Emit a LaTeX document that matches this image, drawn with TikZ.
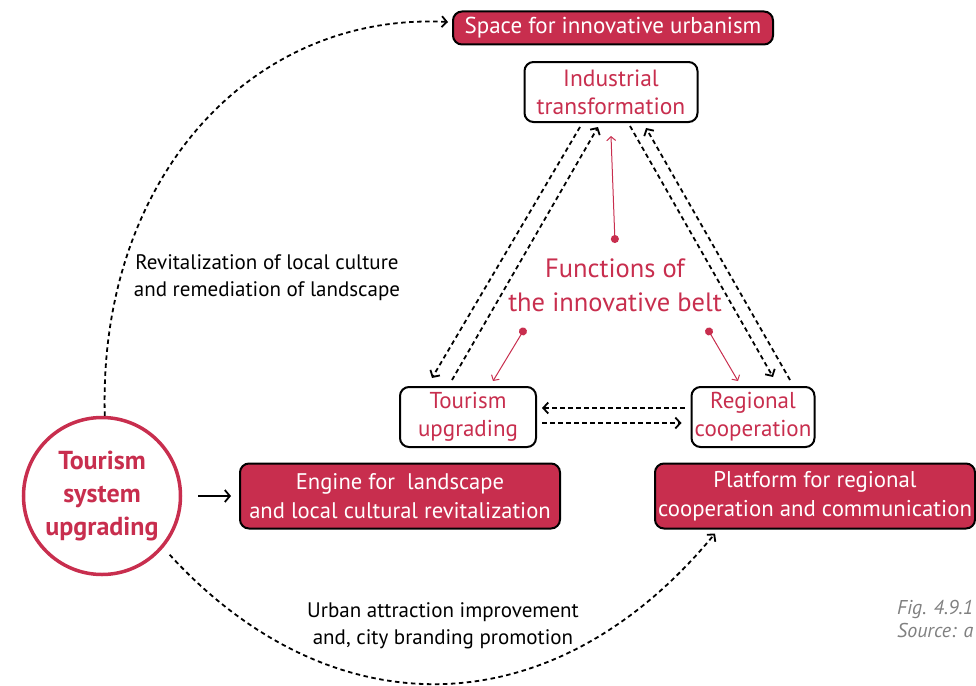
\documentclass[tikz,border=0pt]{standalone}
\usepackage{fontspec}
\setmainfont{PT Sans}
\usetikzlibrary{arrows.meta}
\definecolor{belt}{RGB}{200,46,78}
\definecolor{capgray}{RGB}{128,128,128}
\tikzset{
  redbox/.style={draw=black, line width=2pt, fill=belt, text=white, rounded corners=9pt, align=center, inner sep=1pt},
  whitebox/.style={draw=black, line width=2pt, fill=white, text=belt, rounded corners=9pt, align=center, inner sep=1pt},
  dasharrow/.style={line width=1.8pt, dash pattern=on 4.5pt off 3.5pt, -{Straight Barb[length=5pt,width=11pt,line width=1.8pt]}},
  redarrow/.style={belt, line width=1pt, {Circle[length=8pt]}-{Straight Barb[length=4pt,width=9pt,line width=1pt]}},
  edgelabel/.style={align=center, font=\fontsize{21}{27}\selectfont}
}
\begin{document}
\begin{tikzpicture}[x=1pt, y=-1pt]
\useasboundingbox (0,0) rectangle (976,685);
% outcomes
\node[redbox, minimum width=320pt, minimum height=33pt, font=\fontsize{23}{27}\selectfont] (space) at (613,28) {Space for innovative urbanism};
\node[redbox, minimum width=320pt, minimum height=65pt, font=\fontsize{22.6}{29}\selectfont] (engine) at (400,496) {Engine for ~landscape\\and local cultural revitalization};
\node[redbox, minimum width=320pt, minimum height=65pt, font=\fontsize{22.8}{29}\selectfont] (platform) at (815,496) {Platform for regional\\cooperation and communication};
% functions triangle
\node[whitebox, minimum width=173pt, minimum height=60pt, font=\fontsize{23.5}{28}\selectfont] (ind) at (611,92) {Industrial\\transformation};
\node[whitebox, minimum width=136pt, minimum height=60pt, font=\fontsize{23}{28}\selectfont] (tour) at (468,417) {Tourism\\upgrading};
\node[whitebox, minimum width=123pt, minimum height=60pt, font=\fontsize{23}{28}\selectfont] (reg) at (753,417) {Regional\\cooperation};
\node[text=belt, align=center, font=\fontsize{26.5}{34}\selectfont] (fn) at (615,285) {Functions of\\the innovative belt};
\coordinate (dotind) at (615,243);
\coordinate (dottour) at (525,328);
\coordinate (dotreg) at (707,328);
\draw[redarrow] (dotind) -- ([yshift=-13pt]ind.south);
\draw[redarrow] (dottour) -- (493,381);
\draw[redarrow] (dotreg) -- (738,381);
% exchanges between the functions
\draw[dasharrow] ([xshift=-31pt,yshift=-4pt]ind.south) -- ([xshift=-36pt,yshift=8pt]tour.north);
\draw[dasharrow] ([xshift=-16pt,yshift=6pt]tour.north) -- ([xshift=-13pt,yshift=-4pt]ind.south);
\draw[dasharrow] ([xshift=19pt,yshift=-3pt]ind.south) -- ([xshift=20pt,yshift=9pt]reg.north);
\draw[dasharrow] ([xshift=37pt,yshift=6pt]reg.north) -- ([xshift=35pt,yshift=-5pt]ind.south);
\draw[dasharrow] ([xshift=-6pt,yshift=9pt]reg.west) -- ([xshift=5pt,yshift=9pt]tour.east);
\draw[dasharrow] ([xshift=5pt,yshift=-6pt]tour.east) -- ([xshift=-9pt,yshift=-6pt]reg.west);
% tourism system
\node[circle, draw=belt, line width=3.5pt, minimum size=157pt, text=belt, align=center, font=\fontsize{26}{33}\selectfont\bfseries] (tsu) at (102,496) {Tourism\\system\\upgrading};
\draw[line width=1.8pt, -{Straight Barb[length=5pt,width=12pt,line width=1.8pt]}, shorten <=16pt, shorten >=8pt] (tsu.east) -- (engine.west);
\draw[dasharrow] (tsu.88) .. controls (98,180) and (250,12) .. ([xshift=-4pt,yshift=6pt]space.west);
\draw[dasharrow] ([shift={(8pt,-5pt)}]tsu.-42) .. controls (330,730) and (552,731) .. ([xshift=-100pt,yshift=-4pt]platform.south);
\node[edgelabel] (lblup) at (267,278) {Revitalization of local culture\\and remediation of landscape};
\node[edgelabel] (lbldown) at (443,626) {Urban attraction improvement\\and, city branding promotion};
% caption
\node[anchor=west, text=capgray, align=left, inner sep=0pt, font=\fontsize{20}{23}\selectfont\itshape] (cap) at (897,619) {Fig. 4.9.1\\Source: a};
\end{tikzpicture}
\end{document}
